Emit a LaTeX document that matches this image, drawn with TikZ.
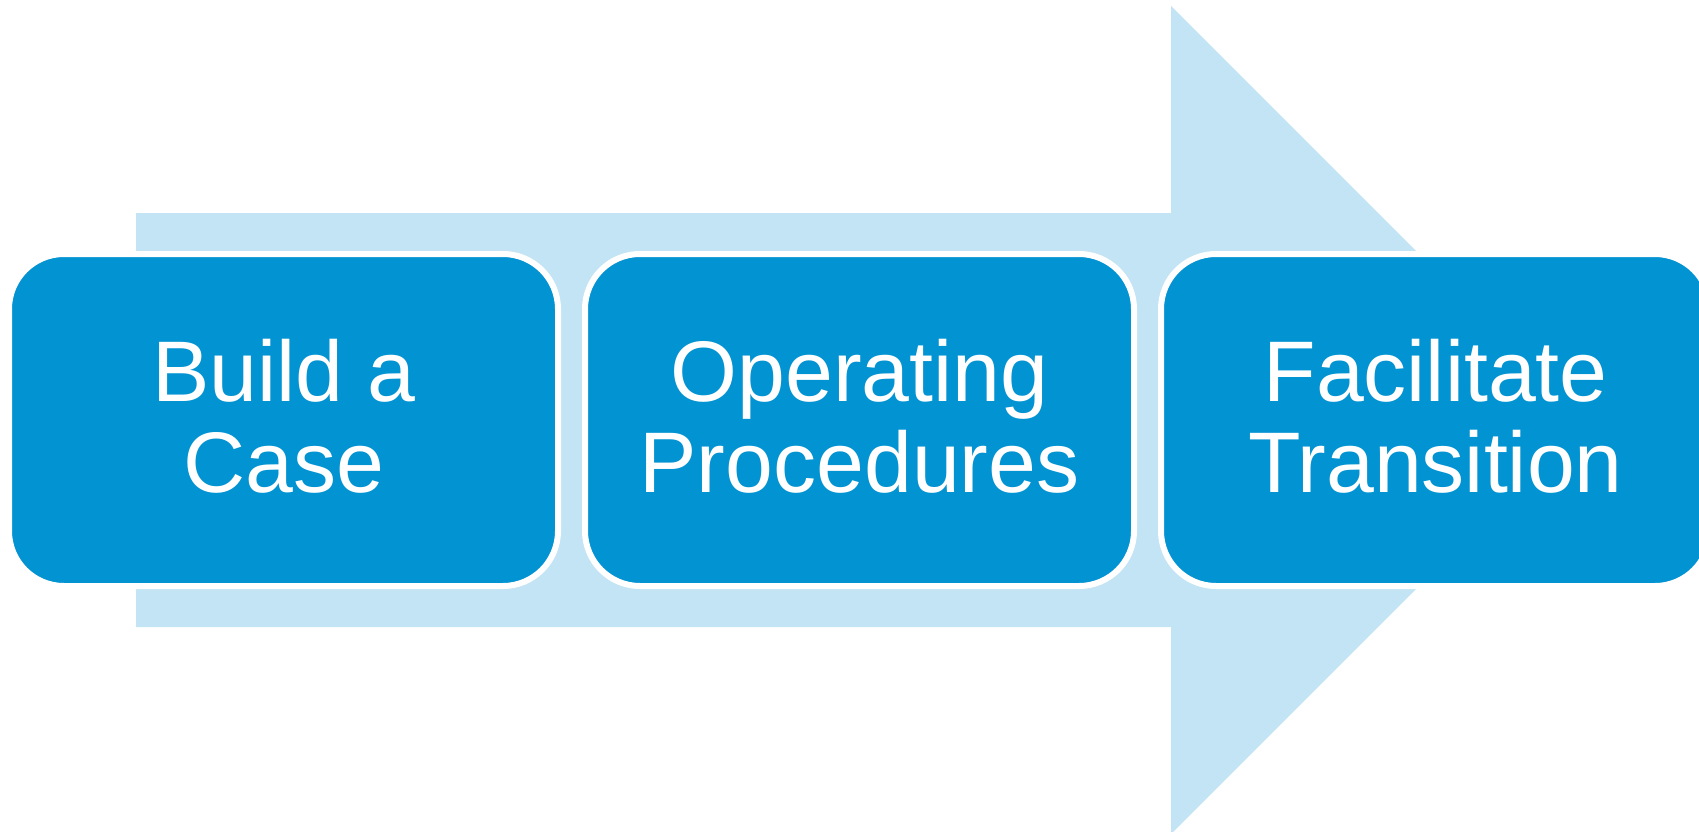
\documentclass[tikz,border=0pt]{standalone}
\usepackage{fontspec}
\setmainfont{Liberation Sans}
\usetikzlibrary{positioning}
\definecolor{stageblue}{RGB}{2,147,210}
\definecolor{arrowblue}{RGB}{194,228,244}

\begin{document}
\begin{tikzpicture}[x=1pt, y=-1pt, node distance=576pt]
    \tikzset{stage/.style={rectangle, rounded corners=55pt, draw=white, line width=6pt, fill=stageblue, minimum width=549pt, minimum height=332pt}}
    \tikzset{stagetext/.style={text=white, align=center, font=\fontsize{86}{91}\selectfont}}

    \useasboundingbox (0,0) rectangle (1699,832);
    % big arrow behind the boxes
    \fill [arrowblue] (136,213) -- (1171,213) -- (1171,6) -- (1585,420) -- (1171,834) -- (1171,627) -- (136,627) -- cycle;

    \node [stage] (s1) at (283.5,420) {};
    \node [stage, right of=s1] (s2) {};
    \node [stage, right of=s2] (s3) {};

    \node [stagetext] (t1) at ([yshift=3.5pt]s1) {Build a\\Case};
    \node [stagetext] (t2) at ([yshift=3.5pt]s2) {Operating\\Procedures};
    \node [stagetext] (t3) at ([yshift=3.5pt]s3) {Facilitate\\Transition};
\end{tikzpicture}
\end{document}
